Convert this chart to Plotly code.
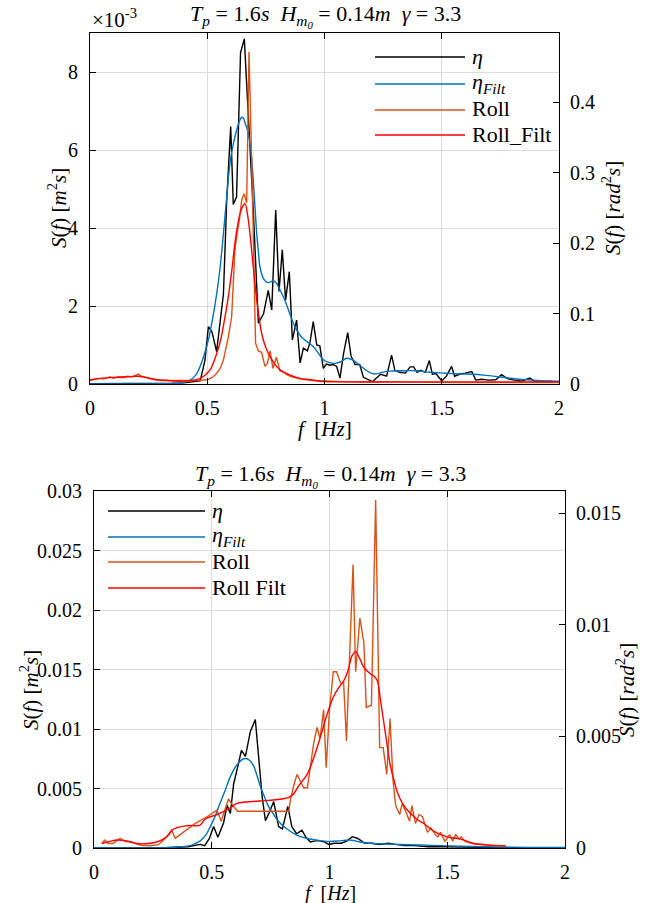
import plotly.graph_objects as go

# ---------------- Top panel data ----------------
f_eta_top = [0.00, 0.05, 0.10, 0.15, 0.20, 0.25, 0.30, 0.35, 0.40, 0.43, 0.45, 0.47, 0.49, 0.505, 0.52, 0.54, 0.555,
             0.569, 0.583, 0.600, 0.611, 0.625, 0.642, 0.658, 0.696, 0.718, 0.74, 0.76, 0.775, 0.792, 0.806, 0.82,
             0.834, 0.85, 0.863, 0.881, 0.896, 0.91, 0.927, 0.938, 0.952, 0.967, 0.98, 0.995, 1.008, 1.023, 1.037,
             1.052, 1.066, 1.08, 1.099, 1.113, 1.13, 1.15, 1.166, 1.185, 1.205, 1.22, 1.24, 1.265, 1.286, 1.30, 1.32,
             1.345, 1.365, 1.38, 1.395, 1.41, 1.43, 1.447, 1.46, 1.475, 1.50, 1.52, 1.542, 1.555, 1.575, 1.60, 1.628,
             1.645, 1.67, 1.70, 1.73, 1.755, 1.78, 1.81, 1.84, 1.876, 1.90, 1.93, 1.96, 1.99, 2.0]
eta_top = [0.01, 0.01, 0.02, 0.01, 0.01, 0.01, 0.01, 0.02, 0.03, 0.05, 0.06, 0.08, 0.6, 1.47, 1.34, 0.83, 1.6,
           2.3, 4.7, 6.6, 4.6, 4.8, 8.5, 8.85, 4.5, 1.56, 1.8, 2.4, 1.9, 4.46, 2.37, 3.44,
           2.15, 2.88, 1.13, 1.64, 0.54, 0.92, 0.85, 1.06, 1.6, 1.0, 0.98, 0.4, 0.51, 0.48, 0.5,
           0.45, 0.15, 0.74, 1.32, 0.72, 0.5, 0.5, 0.17, 0.12, 0.06, 0.15, 0.25, 0.2, 0.74, 0.35, 0.3,
           0.28, 0.44, 0.44, 0.3, 0.35, 0.3, 0.6, 0.25, 0.27, 0.08, 0.2, 0.45, 0.2, 0.25, 0.28, 0.32,
           0.1, 0.12, 0.1, 0.11, 0.24, 0.14, 0.1, 0.07, 0.15, 0.05, 0.05, 0.07, 0.05, 0.05]
eta_top = [v * 1e-3 for v in eta_top]

f_etaf_top = [0.0, 0.1, 0.2, 0.3, 0.384, 0.427, 0.45, 0.469, 0.487, 0.505, 0.522, 0.54, 0.555, 0.569, 0.583, 0.597,
              0.611, 0.625, 0.636, 0.647, 0.654, 0.661, 0.672, 0.682, 0.69, 0.696, 0.703, 0.711, 0.718, 0.725, 0.739,
              0.75, 0.76, 0.77, 0.782, 0.793, 0.803, 0.817, 0.831, 0.849, 0.867, 0.885, 0.903, 0.927, 0.952, 0.975,
              0.995, 1.02, 1.045, 1.07, 1.095, 1.12, 1.15, 1.185, 1.208, 1.23, 1.255, 1.279, 1.33, 1.393, 1.45,
              1.507, 1.57, 1.635, 1.69, 1.75, 1.82, 1.89, 1.95, 2.0]
etaf_top = [0.0, 0.0, 0.0, 0.005, 0.02, 0.1, 0.22, 0.44, 0.75, 1.13, 1.65, 2.3, 3.0, 3.86, 4.8, 5.66,
            6.15, 6.5, 6.72, 6.84, 6.82, 6.7, 6.5, 6.17, 5.75, 5.23, 4.6, 3.86, 3.4, 3.0, 2.71,
            2.63, 2.6, 2.62, 2.64, 2.6, 2.5, 2.33, 2.15, 1.85, 1.56, 1.35, 1.2, 1.08, 0.96, 0.78,
            0.62, 0.55, 0.53, 0.57, 0.66, 0.62, 0.48, 0.32, 0.26, 0.27, 0.31, 0.33, 0.34, 0.34, 0.3,
            0.28, 0.26, 0.25, 0.22, 0.18, 0.13, 0.1, 0.08, 0.07]
etaf_top = [v * 1e-3 for v in etaf_top]

f_roll_top = [0.0, 0.02, 0.04, 0.06, 0.085, 0.1, 0.12, 0.14, 0.16, 0.18, 0.206, 0.22, 0.24, 0.26, 0.28, 0.3, 0.33,
              0.36, 0.384, 0.42, 0.46, 0.5, 0.52, 0.54, 0.555, 0.569, 0.58, 0.59, 0.604, 0.611, 0.618, 0.628, 0.637,
              0.647, 0.657, 0.668, 0.678, 0.69, 0.696, 0.706, 0.718, 0.732, 0.746, 0.757, 0.768, 0.78, 0.795, 0.81,
              0.825, 0.84, 0.86, 0.88, 0.9, 0.95, 1.0, 1.1, 1.2, 1.4, 1.6, 1.8, 2.0]
roll_top = [0.005, 0.006, 0.008, 0.007, 0.0104, 0.008, 0.01, 0.009, 0.011, 0.01, 0.014, 0.011, 0.009, 0.008, 0.006,
            0.005, 0.005, 0.004, 0.004, 0.004, 0.005, 0.006, 0.009, 0.015, 0.022, 0.034, 0.05, 0.067, 0.095, 0.14,
            0.19, 0.215, 0.233, 0.261, 0.27, 0.257, 0.471, 0.31, 0.214, 0.058, 0.047, 0.045, 0.025, 0.03, 0.047,
            0.022, 0.038, 0.019, 0.017, 0.013, 0.01, 0.008, 0.007, 0.005, 0.004, 0.003, 0.003, 0.002, 0.002, 0.002,
            0.002]

f_rollf_top = [0.0, 0.043, 0.085, 0.128, 0.17, 0.206, 0.24, 0.284, 0.33, 0.384, 0.42, 0.455, 0.485, 0.512, 0.535,
               0.554, 0.572, 0.59, 0.605, 0.618, 0.63, 0.64, 0.651, 0.661, 0.672, 0.682, 0.696, 0.711, 0.722, 0.732,
               0.746, 0.76, 0.778, 0.795, 0.815, 0.838, 0.865, 0.896, 0.94, 0.98, 1.1, 1.3, 1.6, 2.0]
rollf_top = [0.006, 0.008, 0.009, 0.01, 0.0105, 0.011, 0.009, 0.006, 0.005, 0.004, 0.0045, 0.006, 0.011, 0.02,
             0.038, 0.058, 0.088, 0.124, 0.162, 0.2, 0.226, 0.242, 0.252, 0.256, 0.24, 0.214, 0.167, 0.119, 0.092,
             0.072, 0.055, 0.044, 0.033, 0.025, 0.019, 0.015, 0.011, 0.008, 0.006, 0.004, 0.003, 0.003, 0.003,
             0.003]

# ---------------- Bottom panel data ----------------
f_eta_bot = [0.0, 0.1, 0.2, 0.3, 0.40, 0.43, 0.451, 0.47, 0.49, 0.508, 0.526, 0.55, 0.565, 0.579, 0.593, 0.61,
             0.626, 0.643, 0.664, 0.685, 0.70, 0.714, 0.728, 0.745, 0.763, 0.784, 0.80, 0.823, 0.84, 0.86, 0.883,
             0.90, 0.919, 0.94, 0.96, 0.98, 0.997, 1.02, 1.05, 1.075, 1.097, 1.12, 1.15, 1.18, 1.21, 1.25, 1.28,
             1.32, 1.36, 1.42, 1.5, 1.6, 1.7, 1.8, 1.9, 2.0]
eta_bot = [0.0, 0.0, 0.0, 0.00002, 0.0001, 0.0002, 0.0003, 0.0002, 0.0008, 0.0018, 0.0009, 0.0021, 0.0036, 0.0029,
           0.0054, 0.0068, 0.0082, 0.0077, 0.0098, 0.0108, 0.0075, 0.0043, 0.0023, 0.003, 0.0039, 0.0018, 0.0016,
           0.0035, 0.0018, 0.0012, 0.0015, 0.0009, 0.0005, 0.0006, 0.0006, 0.0005, 0.0003, 0.0004, 0.0004, 0.0006,
           0.00095, 0.0008, 0.0004, 0.0004, 0.0003, 0.0004, 0.0003, 0.0002, 0.0002, 0.0001, 0.0001, 0.00005,
           0.00003, 0.00002, 0.00001, 0.00001]

f_etaf_bot = [0.0, 0.3, 0.36, 0.409, 0.451, 0.475, 0.494, 0.515, 0.536, 0.558, 0.579, 0.6, 0.621, 0.636, 0.65,
              0.664, 0.678, 0.692, 0.706, 0.724, 0.741, 0.76, 0.777, 0.80, 0.82, 0.85, 0.877, 0.905, 0.934, 0.97,
              1.004, 1.04, 1.07, 1.095, 1.13, 1.17, 1.22, 1.302, 1.38, 1.472, 1.56, 1.66, 1.78, 1.89, 2.0]
etaf_bot = [0.0, 0.00002, 0.0001, 0.0002, 0.0006, 0.0011, 0.0018, 0.0027, 0.0038, 0.0049, 0.006, 0.0068, 0.0073,
            0.0075, 0.0075, 0.0073, 0.0069, 0.0061, 0.0052, 0.0043, 0.0035, 0.0029, 0.0024, 0.0019, 0.0016, 0.0012,
            0.00095, 0.0008, 0.0007, 0.0006, 0.00055, 0.0006, 0.00065, 0.00065, 0.0005, 0.0004, 0.00035, 0.0003,
            0.00025, 0.0002, 0.00015, 0.0001, 0.00007, 0.00005, 0.00004]

f_roll_bot = [0.033, 0.046, 0.06, 0.08, 0.111, 0.13, 0.16, 0.2, 0.24, 0.274, 0.30, 0.33, 0.345, 0.43, 0.48, 0.522,
              0.54, 0.557, 0.571, 0.59, 0.61, 0.827, 0.835, 0.848, 0.862, 0.876, 0.89, 0.906, 0.92, 0.933, 0.947,
              0.96, 0.975, 0.986, 1.0, 1.016, 1.03, 1.047, 1.06, 1.072, 1.085, 1.1, 1.111, 1.129, 1.146, 1.156,
              1.178, 1.196, 1.213, 1.228, 1.243, 1.257, 1.27, 1.281, 1.298, 1.309, 1.325, 1.34, 1.35, 1.365, 1.38,
              1.395, 1.416, 1.43, 1.45, 1.46, 1.472, 1.49, 1.51, 1.523, 1.536, 1.55, 1.56, 1.575, 1.607, 1.65, 1.70,
              1.742]
roll_bot = [0.0002, 0.00036, 0.0002, 0.0002, 0.00043, 0.0003, 0.00025, 0.00012, 0.0001, 0.00015, 0.0004, 0.0008,
            0.00043, 0.0011, 0.0014, 0.0017, 0.0012, 0.0018, 0.0022, 0.0019, 0.00165, 0.00165, 0.0022, 0.0028,
            0.0033, 0.0030, 0.0027, 0.0027, 0.0037, 0.0047, 0.0054, 0.0049, 0.0062, 0.0036, 0.0062, 0.0079, 0.0079,
            0.0074, 0.0074, 0.0048, 0.0085, 0.0127, 0.0079, 0.0103, 0.0092, 0.0063, 0.0064, 0.0156, 0.0045, 0.0045,
            0.0033, 0.0058, 0.003, 0.0019, 0.0015, 0.002, 0.0016, 0.0012, 0.0019, 0.0011, 0.0015, 0.0014, 0.0007,
            0.0009, 0.0006, 0.0005, 0.0007, 0.0003, 0.0006, 0.0003, 0.0006, 0.0004, 0.0005, 0.0003, 0.0002,
            0.00015, 0.0001, 0.0001]

f_rollf_bot = [0.033, 0.068, 0.1, 0.125, 0.155, 0.182, 0.23, 0.27, 0.309, 0.337, 0.394, 0.451, 0.472, 0.522, 0.579,
               0.607, 0.834, 0.87, 0.905, 0.935, 0.962, 0.99, 1.018, 1.04, 1.061, 1.08, 1.095, 1.111, 1.128, 1.146,
               1.174, 1.19, 1.203, 1.217, 1.238, 1.26, 1.275, 1.288, 1.31, 1.33, 1.37, 1.4, 1.444, 1.5, 1.557,
               1.613, 1.68, 1.749]
rollf_bot = [0.0002, 0.0003, 0.00036, 0.00034, 0.00028, 0.0002, 0.0002, 0.00028, 0.0005, 0.00084, 0.001, 0.00103,
             0.0013, 0.0015, 0.0018, 0.002, 0.0023, 0.0028, 0.0033, 0.0041, 0.005, 0.006, 0.0068, 0.0072, 0.0075,
             0.008, 0.0086, 0.0088, 0.0085, 0.0081, 0.0078, 0.0077, 0.0075, 0.0066, 0.0051, 0.0036, 0.003, 0.0025,
             0.002, 0.0017, 0.0013, 0.0011, 0.00075, 0.0005, 0.0004, 0.0002, 0.00013, 0.0001]

# tick labels
x_ticks = [0, 0.5, 1, 1.5, 2]
x_ticktext = ["0", "0.5", "1", "1.5", "2"]
top_left_ticks = [0, 0.002, 0.004, 0.006, 0.008]
top_left_text = ["0", "2", "4", "6", "8"]
top_right_ticks = [0, 0.1, 0.2, 0.3, 0.4]
top_right_text = ["0", "0.1", "0.2", "0.3", "0.4"]
bot_left_ticks = [0, 0.005, 0.01, 0.015, 0.02, 0.025, 0.03]
bot_left_text = ["0", "0.005", "0.01", "0.015", "0.02", "0.025", "0.03"]
bot_right_ticks = [0, 0.005, 0.01, 0.015]
bot_right_text = ["0", "0.005", "0.01", "0.015"]

# legend labels
lbl_eta = "<i>η</i>"
lbl_etaf = "<i>η<sub>Filt</sub></i>"
top_names = [lbl_eta, lbl_etaf, "Roll", "Roll_Filt"]
bot_names = [lbl_eta, lbl_etaf, "Roll", "Roll Filt"]

BLACK = "#000000"
BLUE = "#0072BD"
ORANGE = "#D95319"
RED = "#FF0000"
COLORS = [BLACK, BLUE, ORANGE, RED]
FONT = "Liberation Serif"
FS = 20
LW = 1.4

fig = go.Figure()
# top
fig.add_trace(go.Scatter(x=f_eta_top, y=eta_top, mode="lines", line=dict(color=BLACK, width=LW),
                         name=top_names[0], xaxis="x", yaxis="y"))
fig.add_trace(go.Scatter(x=f_etaf_top, y=etaf_top, mode="lines", line=dict(color=BLUE, width=LW, shape="spline"),
                         name=top_names[1], xaxis="x", yaxis="y"))
fig.add_trace(go.Scatter(x=f_roll_top, y=roll_top, mode="lines", line=dict(color=ORANGE, width=LW),
                         name=top_names[2], xaxis="x", yaxis="y2"))
fig.add_trace(go.Scatter(x=f_rollf_top, y=rollf_top, mode="lines", line=dict(color=RED, width=LW, shape="spline"),
                         name=top_names[3], xaxis="x", yaxis="y2"))
# bottom
fig.add_trace(go.Scatter(x=f_eta_bot, y=eta_bot, mode="lines", line=dict(color=BLACK, width=LW),
                         name=bot_names[0], xaxis="x2", yaxis="y3"))
fig.add_trace(go.Scatter(x=f_etaf_bot, y=etaf_bot, mode="lines", line=dict(color=BLUE, width=LW, shape="spline"),
                         name=bot_names[1], xaxis="x2", yaxis="y3"))
fig.add_trace(go.Scatter(x=f_roll_bot, y=roll_bot, mode="lines", line=dict(color=ORANGE, width=LW),
                         name=bot_names[2], xaxis="x2", yaxis="y4"))
fig.add_trace(go.Scatter(x=f_rollf_bot, y=rollf_bot, mode="lines", line=dict(color=RED, width=LW, shape="spline"),
                         name=bot_names[3], xaxis="x2", yaxis="y4"))

W, H = 660, 903
def px_x(p):
    return p / W
def px_y(p):
    return 1 - p / H

tfont = dict(family=FONT, size=FS, color="black")
common_x = dict(range=[0, 2], tickvals=x_ticks, ticktext=x_ticktext, showline=True, linecolor="black",
                linewidth=1, mirror="ticks", ticks="inside", ticklen=6, tickcolor="black", showgrid=True,
                gridcolor="#dcdcdc", gridwidth=1, zeroline=False, tickfont=tfont, ticklabelstandoff=6,
                fixedrange=True, automargin=False)
common_yl = dict(showline=True, linecolor="black", linewidth=1, ticks="inside", ticklen=6, tickcolor="black",
                 showgrid=True, gridcolor="#dcdcdc", gridwidth=1, zeroline=False, tickfont=tfont,
                 ticklabelstandoff=7, fixedrange=True, automargin=False)
common_yr = dict(showline=True, linecolor="black", linewidth=1, ticks="inside", ticklen=6, tickcolor="black",
                 showgrid=False, zeroline=False, side="right", tickfont=tfont, ticklabelstandoff=6,
                 fixedrange=True, automargin=False)

top_dom_x = [px_x(90), px_x(559)]
top_dom_y = [px_y(384), px_y(33)]
bot_dom_x = [px_x(94), px_x(565)]
bot_dom_y = [px_y(848), px_y(491)]

fig.update_layout(
    width=W, height=H, margin=dict(l=0, r=0, t=0, b=0, autoexpand=False),
    paper_bgcolor="white", plot_bgcolor="white",
    font=dict(family=FONT, size=FS, color="black"),
    showlegend=False,
    xaxis=dict(domain=top_dom_x, anchor="y", **common_x),
    yaxis=dict(domain=top_dom_y, anchor="x", range=[0, 0.009], tickvals=top_left_ticks, ticktext=top_left_text,
               **common_yl),
    yaxis2=dict(overlaying="y", anchor="x", range=[0, 0.498], tickvals=top_right_ticks, ticktext=top_right_text,
                **common_yr),
    xaxis2=dict(domain=bot_dom_x, anchor="y3", **common_x),
    yaxis3=dict(domain=bot_dom_y, anchor="x2", range=[0, 0.03], tickvals=bot_left_ticks, ticktext=bot_left_text,
                **common_yl),
    yaxis4=dict(overlaying="y3", anchor="x2", range=[0, 0.016], tickvals=bot_right_ticks, ticktext=bot_right_text,
                **common_yr),
)

NB = "\u00a0"
title_txt = (f"<i>T<sub>p</sub></i>{NB}={NB}1.6<i>s</i>{NB}{NB}<i>H<sub>m<sub>0</sub></sub></i>{NB}={NB}0.14<i>m</i>"
             f"{NB}{NB}<i>γ</i>{NB}={NB}3.3")
ylab_left = f"<i>S</i>(<i>f</i>){NB}[<i>m</i><sup>2</sup><i>s</i>]"
ylab_right = f"<i>S</i>(<i>f</i>){NB}[<i>rad</i><sup>2</sup><i>s</i>]"
xlab = f"<i>f</i>{NB}{NB}[<i>Hz</i>]"


def note(text, x, y, angle=0, xanchor="center", size=FS):
    return dict(text=text, x=px_x(x), y=px_y(y), xref="paper", yref="paper", showarrow=False,
                xanchor=xanchor, yanchor="middle", textangle=angle,
                font=dict(family=FONT, size=size, color="black"))


ann = [
    note(title_txt, 325, 16, size=22),
    note("×10<sup>-3</sup>", 90, 19, xanchor="left", size=21),
    note(xlab, 325, 429, size=21),
    note(ylab_left, 57, 208, angle=-90, size=21),
    note(ylab_right, 611, 208, angle=-90, size=21),
    note(title_txt, 330, 476, size=22),
    note(xlab, 330, 893, size=20),
    note(ylab_left, 29, 690, angle=-90, size=21),
    note(ylab_right, 625, 690, angle=-90, size=21),
]

# hand-drawn legends (long MATLAB-style keys)
shapes = []
top_leg_y = [57, 84, 110, 135]
bot_leg_y = [511, 537, 562, 588]
for names, ys, x0, x1, xt in [(top_names, top_leg_y, 375, 465, 470), (bot_names, bot_leg_y, 108, 205, 210)]:
    for name, yy, col in zip(names, ys, COLORS):
        shapes.append(dict(type="line", xref="paper", yref="paper", x0=px_x(x0), x1=px_x(x1),
                           y0=px_y(yy), y1=px_y(yy), line=dict(color=col, width=LW)))
        ann.append(note(name, xt, yy - 1, xanchor="left", size=22))

fig.update_layout(annotations=ann, shapes=shapes)

fig.write_html("out.html", config={"displayModeBar": False},
               post_script="document.body.style.margin='0px';document.body.style.overflow='hidden';")
